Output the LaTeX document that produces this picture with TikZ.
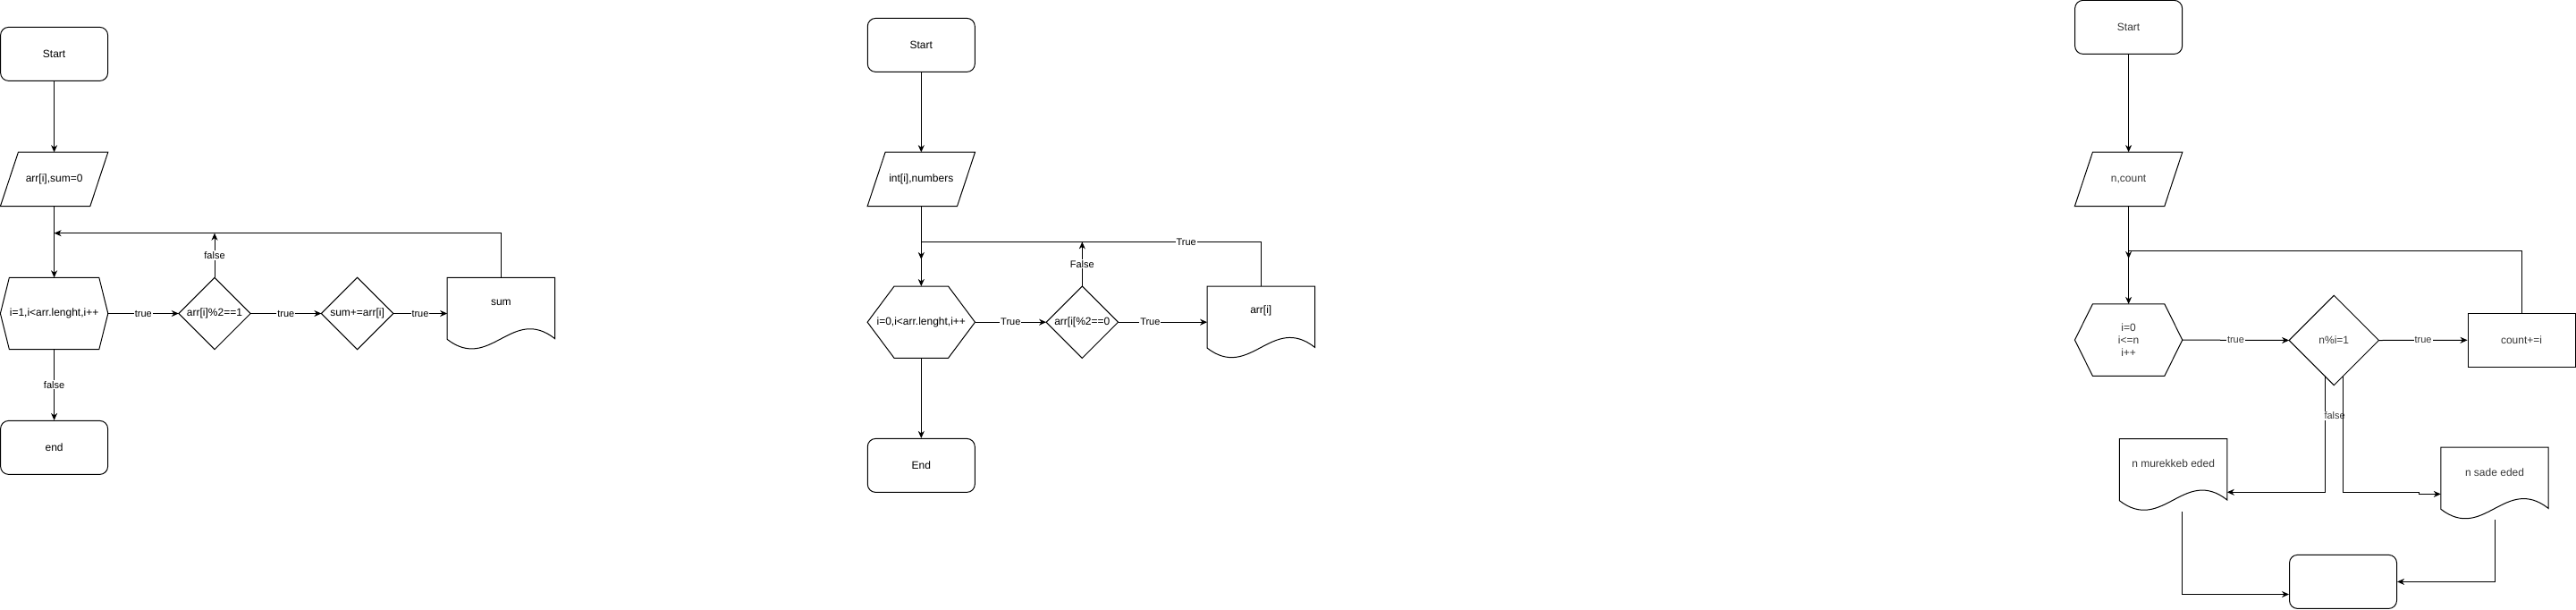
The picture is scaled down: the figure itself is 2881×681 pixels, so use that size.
\documentclass[tikz,border=0pt]{standalone}
\usepackage{fontspec}
\setmainfont{Liberation Sans}
\usetikzlibrary{arrows.meta,calc}
\tikzset{
  ln/.style={line width=1pt, draw=black},
  arr/.style={ln, -{Stealth[length=8pt,width=7pt,inset=2.5pt]}},
  txt/.style={inner sep=0pt, font=\fontsize{12}{14.4}\selectfont, align=center},
  term/.style={txt, draw, line width=1pt, rounded corners=9pt, minimum width=120pt, minimum height=60pt},
  sq/.style={txt, draw, line width=1pt, minimum width=120pt, minimum height=60pt},
  area/.style 2 args={txt, minimum width=#1pt, minimum height=#2pt},
  lbl/.style={fill=white, inner sep=1pt, font=\fontsize{11}{13}\selectfont},
  grey/.style={text=black!78},
}
\newcommand\mkpara[2]{\draw[ln] ($(#1.north west)+(#2,0)$) -- (#1.north east) -- ($(#1.south east)+(-#2,0)$) -- (#1.south west) -- cycle;}
\newcommand\mkhex[2]{\draw[ln] (#1.west) -- ($(#1.north west)+(#2,0)$) -- ($(#1.north east)+(-#2,0)$) -- (#1.east) -- ($(#1.south east)+(-#2,0)$) -- ($(#1.south west)+(#2,0)$) -- cycle;}
\newcommand\mkdiam[1]{\draw[ln] (#1.west) -- (#1.north) -- (#1.east) -- (#1.south) -- cycle;}
\newcommand\mkdoc[1]{\draw[ln] let \p1=(#1.north west), \p2=(#1.south east) in
  (\x1,\y1) -- (\x2,\y1) -- (\x2,{\y1+0.85*(\y2-\y1)})
  .. controls ({\x1+0.6*(\x2-\x1)},{\y1+0.38*(\y2-\y1)}) and ({\x1+0.4*(\x2-\x1)},{\y1+1.32*(\y2-\y1)}) ..
  (\x1,{\y1+0.86*(\y2-\y1)}) -- cycle;}
\begin{document}
\begin{tikzpicture}[x=1pt,y=-1pt]
\fill[white] (0,0) rectangle (2881,681);
\useasboundingbox (0,0) rectangle (2881,681);

% ---------------- Diagram 1 ----------------
\node[term] (s1) at (60.6,60.4) {Start};
\node[area={120}{60}] (p1) at (60.6,200.4) {arr[i],sum=0};
\mkpara{p1}{20}
\node[area={120}{80}] (h1) at (60.6,350.5) {i=1,i<arr.lenght,i++};
\mkhex{h1}{10}
\node[area={80}{80}] (d1) at (240,350.5) {arr[i]\%2==1};
\mkdiam{d1}
\node[area={80}{80}] (d1b) at (399.6,350.5) {sum+=arr[i]};
\mkdiam{d1b}
\node[area={120}{80}] (doc1) at (560.4,350.5) {};
\mkdoc{doc1}
\node[txt] (doc1t) at ($(doc1.center)+(0,-12.5)$) {sum};
\node[term] (e1) at (60.6,500.4) {end};
\coordinate (j1) at (60.6,260.7);

\draw[arr] (s1.south) -- (p1.north);
\draw[arr] (p1.south) -- (h1.north);
\draw[arr] (h1.east) -- node[lbl]{true} (d1.west);
\draw[arr] (d1.east) -- node[lbl]{true} (d1b.west);
\draw[arr] (d1b.east) -- node[lbl]{true} (doc1.west);
\draw[arr] (d1.north) -- node[lbl]{false} (d1.north |- j1);
\draw[arr] (doc1.north) |- (j1);
\draw[arr] (h1.south) -- node[lbl]{false} (e1.north);

% ---------------- Diagram 2 ----------------
\node[term] (s2) at (1030.3,50.4) {Start};
\node[area={120}{60}] (p2) at (1030.3,200.4) {int[i],numbers};
\mkpara{p2}{20}
\node[area={120}{80}] (h2) at (1030.3,360.2) {i=0,i<arr.lenght,i++};
\mkhex{h2}{30}
\node[area={80}{80}] (d2) at (1210.3,360.2) {arr[i[\%2==0};
\mkdiam{d2}
\node[area={120}{80}] (doc2) at (1410.3,360.2) {};
\mkdoc{doc2}
\node[txt] (doc2t) at ($(doc2.center)+(0,-12.5)$) {arr[i]};
\node[term] (e2) at (1030.3,520.4) {End};
\coordinate (j2a) at (1030.3,270.4);
\coordinate (j2) at (1030.3,290);

\draw[arr] (s2.south) -- (p2.north);
\draw[arr] (p2.south) -- (h2.north);
\draw[arr] (h2.east) -- node[lbl]{True} (d2.west);
\draw[arr] (d2.east) -- node[lbl,pos=0.36]{True} (doc2.west);
\draw[arr] (d2.north) -- node[lbl]{False} (d2.north |- j2a);
\draw[arr] (doc2.north) |- node[lbl,pos=0.61]{True} (j2a) -- (j2);
\draw[arr] (h2.south) -- (e2.north);

% ---------------- Diagram 3 ----------------
\node[term,grey] (s3) at (2380.6,30.4) {Start};
\node[area={120}{60},grey] (p3) at (2380.6,200.3) {n,count};
\mkpara{p3}{20}
\node[area={120}{80},grey] (h3) at (2380.6,380.1) {i=0\\i<=n\\i++};
\mkhex{h3}{20}
\node[area={100}{100},grey] (d3) at (2610.3,380.5) {n\%i=1};
\mkdiam{d3}
\node[sq,grey] (r3) at (2820,380.3) {count+=i};
\node[area={120}{80}] (doc3a) at (2430.6,530.8) {};
\mkdoc{doc3a}
\node[txt,grey] (doc3at) at ($(doc3a.center)+(0,-12.5)$) {n murekkeb eded};
\node[area={120}{80}] (doc3b) at (2790,540.3) {};
\mkdoc{doc3b}
\node[txt,grey] (doc3bt) at ($(doc3b.center)+(0,-12.5)$) {n sade eded};
\node[term] (e3) at (2620.5,650.4) {};
\coordinate (j3a) at (2380.6,280.6);
\coordinate (j3) at (2380.6,289);
\coordinate (d3l) at ($(d3.center)+(-10.2,39.4)$);
\coordinate (d3r) at ($(d3.center)+(10.2,39.4)$);

\draw[arr] (s3.south) -- (p3.north);
\draw[arr] (p3.south) -- (h3.north);
\draw[arr] (h3.east) -- node[lbl,grey]{true} (d3.west);
\draw[arr] (d3.east) -- node[lbl,grey]{true} (r3.west);
\draw[arr] (r3.north) |- (j3a) -- (j3);
\draw[arr] (d3l) |- node[lbl,grey,pos=0.173,xshift=11pt]{false} ($(doc3a.east)+(0,19.5)$);
\draw[arr] (d3r) |- ($(doc3b.west)+(-24.1,10)$) |- ($(doc3b.west)+(0,12.1)$);
\draw[arr] ($(doc3a.south)+(10.2,0.8)$) |- ($(e3.west)+(0,14.1)$);
\draw[arr] ($(doc3b.south)+(0,0.8)$) |- (e3.east);
\end{tikzpicture}
\end{document}
